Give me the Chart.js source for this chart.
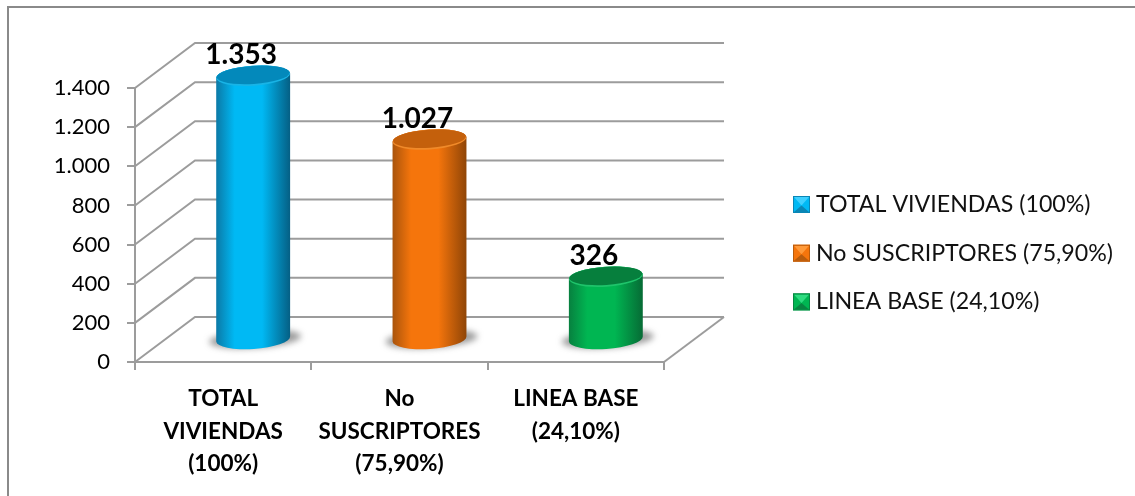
<!DOCTYPE html>
<html>
<head>
<meta charset="utf-8">
<title>Viviendas</title>
<script src="https://cdn.jsdelivr.net/npm/chart.js@4/dist/chart.umd.min.js"></script>
<style>
    html, body { margin: 0; padding: 0; background: #fff; }
    #wrap { width: 1135px; height: 496px; position: relative; overflow: hidden; }
</style>
</head>
<body>
<div id="wrap"><canvas id="chart" width="1135" height="496"></canvas></div>
<script>
const categories = [
    ['TOTAL', 'VIVIENDAS', '(100%)'],
    ['No', 'SUSCRIPTORES', '(75,90%)'],
    ['LINEA BASE', '(24,10%)']
];
const values = [1353, 1027, 326];
const valueLabels = ['1.353', '1.027', '326'];
const legendLabels = ['TOTAL VIVIENDAS (100%)', 'No SUSCRIPTORES (75,90%)', 'LINEA BASE (24,10%)'];

const FONT = 'Lato, Carlito, Calibri, sans-serif';
const GRID = '#9c9c9c';
const DEPTH = { x: 60, y: -45 };

// edge left, middle, edge right, top cap, top rim, swatch light, swatch dark
const palettes = [
    { left: '#0b79a6', mid: '#00b9f4', right: '#055f84', cap: '#0389bb', rim: '#19b4e6', light: '#3fd0ff', dark: '#0a86b5' },
    { left: '#a9540c', mid: '#f5750c', right: '#8f4507', cap: '#c4600c', rim: '#f08a2a', light: '#ff9a3a', dark: '#b85c0c' },
    { left: '#07803f', mid: '#00b652', right: '#066b35', cap: '#067f3d', rim: '#1fc46b', light: '#2fdc80', dark: '#078541' }
];

// frame + 3D floor and back wall, all hung off the real scales
const wallPlugin = {
    id: 'wall',
    beforeDatasetsDraw(chart) {
        const { ctx, scales: { x, y } } = chart;
        const left = x.left, right = x.right;
        ctx.save();

        ctx.strokeStyle = '#8a8a8a';
        ctx.lineWidth = 2;
        ctx.beginPath();
        ctx.moveTo(8, 496);
        ctx.lineTo(8, 7);
        ctx.lineTo(1135, 7);
        ctx.stroke();

        ctx.strokeStyle = GRID;
        ctx.lineWidth = 2;
        y.ticks.forEach(t => {
            const py = y.getPixelForValue(t.value);
            ctx.beginPath();
            ctx.moveTo(left, py);
            ctx.lineTo(left + DEPTH.x, py + DEPTH.y);
            ctx.lineTo(right + DEPTH.x, py + DEPTH.y);
            ctx.stroke();
        });
        const base = y.getPixelForValue(0);
        ctx.beginPath();
        ctx.moveTo(right, base);
        ctx.lineTo(right + DEPTH.x, base + DEPTH.y);
        ctx.stroke();
        ctx.restore();
    }
};

const cylinderPlugin = {
    id: 'cylinder',
    afterDatasetsDraw(chart) {
        const { ctx } = chart;
        const meta = chart.getDatasetMeta(0);
        const tilt = -0.065;
        meta.data.forEach((bar, i) => {
            const pal = palettes[i];
            const cx = bar.x + DEPTH.x / 2;
            const topY = bar.y + DEPTH.y / 2 + 1;
            const baseY = bar.base + DEPTH.y / 2 + 0.5;
            const rx = bar.width / 2;
            const ry = 10;
            ctx.save();

            // floor shadow
            ctx.save();
            ctx.filter = 'blur(3px)';
            ctx.fillStyle = 'rgba(90,90,90,0.6)';
            ctx.beginPath();
            ctx.ellipse(cx + 2, baseY, rx + 9, ry - 1, tilt, 0, Math.PI * 2);
            ctx.fill();
            ctx.restore();

            // body
            const grad = ctx.createLinearGradient(cx - rx, 0, cx + rx, 0);
            grad.addColorStop(0, pal.left);
            grad.addColorStop(0.25, pal.mid);
            grad.addColorStop(0.62, pal.mid);
            grad.addColorStop(1, pal.right);
            ctx.fillStyle = grad;
            ctx.beginPath();
            ctx.ellipse(cx, topY, rx, ry, tilt, Math.PI, 0, false);
            ctx.ellipse(cx, baseY, rx, ry, tilt, 0, Math.PI, false);
            ctx.closePath();
            ctx.fill();

            // top cap
            ctx.fillStyle = pal.rim;
            ctx.beginPath();
            ctx.ellipse(cx, topY, rx, ry, tilt, 0, Math.PI * 2);
            ctx.fill();
            ctx.fillStyle = pal.cap;
            ctx.beginPath();
            ctx.ellipse(cx, topY - 0.8, rx - 0.5, ry - 1, tilt, 0, Math.PI * 2);
            ctx.fill();

            // value label
            ctx.fillStyle = '#000';
            ctx.font = 'bold 28px ' + FONT;
            ctx.textAlign = 'center';
            ctx.textBaseline = 'middle';
            ctx.fillText(valueLabels[i], cx - 12, topY - 21);
            ctx.restore();
        });
    }
};

// legend with the little pyramid swatches
const legendPlugin = {
    id: 'sideLegend',
    afterDraw(chart) {
        const { ctx } = chart;
        const x0 = 793, size = 17;
        legendLabels.forEach((label, i) => {
            const pal = palettes[i];
            const cy = 204.5 + i * 48.7;
            const top = cy - size / 2;
            const cxs = x0 + size / 2;
            ctx.save();
            ctx.fillStyle = pal.mid;
            ctx.fillRect(x0, top, size, size);
            ctx.fillStyle = pal.light;
            ctx.beginPath();
            ctx.moveTo(x0 + 1, top + 1);
            ctx.lineTo(x0 + size - 1, top + 1);
            ctx.lineTo(cxs, cy + 1);
            ctx.closePath();
            ctx.fill();
            ctx.fillStyle = pal.dark;
            ctx.beginPath();
            ctx.moveTo(x0 + 1, top + size - 1);
            ctx.lineTo(x0 + size - 1, top + size - 1);
            ctx.lineTo(cxs, cy + 1);
            ctx.closePath();
            ctx.fill();
            ctx.strokeStyle = pal.dark;
            ctx.lineWidth = 1;
            ctx.strokeRect(x0 + 0.5, top + 0.5, size - 1, size - 1);

            ctx.fillStyle = '#111';
            ctx.font = '23.2px ' + FONT;
            ctx.textAlign = 'left';
            ctx.textBaseline = 'middle';
            ctx.fillText(label, 816, cy);
            ctx.restore();
        });
    }
};

new Chart(document.getElementById('chart'), {
    type: 'bar',
    data: {
        labels: categories,
        datasets: [{
            data: values,
            backgroundColor: 'rgba(0,0,0,0)',
            borderWidth: 0,
            categoryPercentage: 1,
            barPercentage: 0.42
        }]
    },
    options: {
        responsive: false,
        animation: false,
        layout: { padding: { left: 35, right: 471, top: 88, bottom: 4 } },
        plugins: {
            legend: { display: false },
            tooltip: { enabled: false }
        },
        scales: {
            x: {
                offset: true,
                afterFit(s) { s.height = 130; s.paddingLeft = 0; s.paddingRight = 0; },
                border: { color: GRID, width: 2 },
                grid: { color: GRID, lineWidth: 2, drawOnChartArea: false, tickLength: 8 },
                ticks: {
                    color: '#000',
                    padding: 13,
                    maxRotation: 0,
                    autoSkip: false,
                    font: { family: FONT, size: 22.5, weight: 'bold', lineHeight: 1.44 }
                }
            },
            y: {
                min: 0,
                max: 1400,
                afterFit(s) { s.width = 100; s.paddingTop = 0; s.paddingBottom = 0; },
                border: { color: GRID, width: 2 },
                grid: { color: GRID, lineWidth: 2, drawOnChartArea: false, tickLength: 8 },
                ticks: {
                    stepSize: 200,
                    color: '#000',
                    padding: 17,
                    callback: v => String(v).replace(/\B(?=(\d{3})+$)/, '.'),
                    font: { family: FONT, size: 22 }
                }
            }
        }
    },
    plugins: [wallPlugin, cylinderPlugin, legendPlugin]
});
</script>
</body>
</html>
